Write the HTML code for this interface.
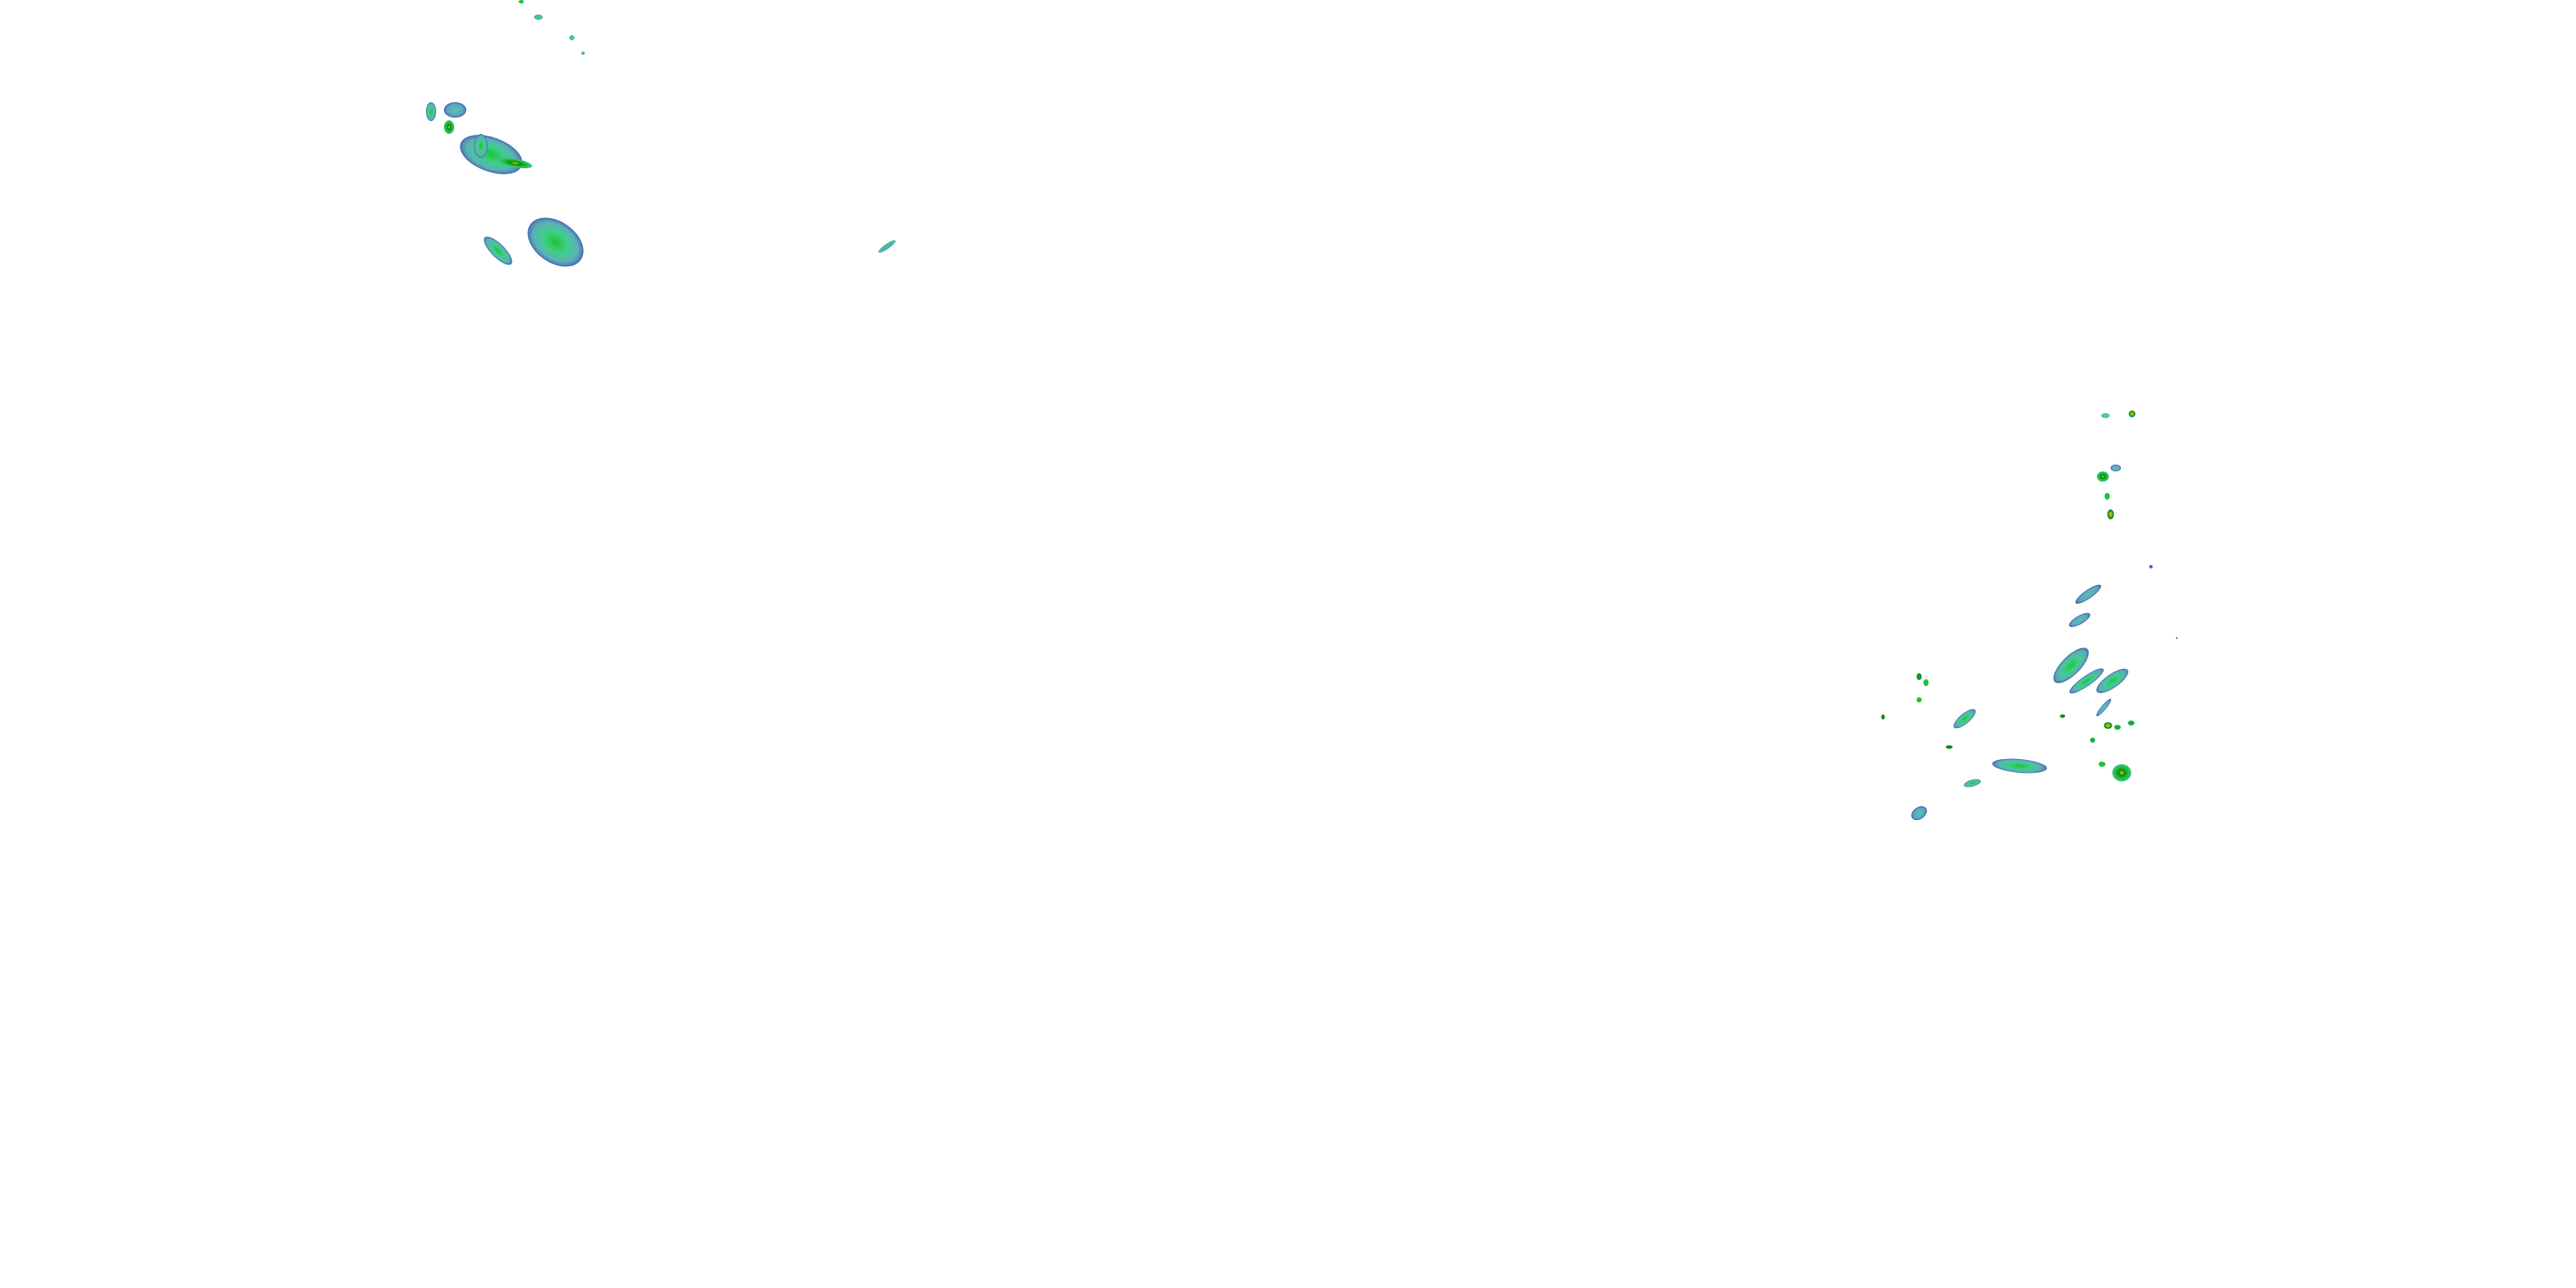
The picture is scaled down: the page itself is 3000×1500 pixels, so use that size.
<!DOCTYPE html>
<html><head><style>html,body{margin:0;padding:0;background:#fff}svg{display:block}</style></head>
<body>
<svg width="3000" height="1500" viewBox="0 0 3000 1500" xmlns="http://www.w3.org/2000/svg">
<defs>
<radialGradient id="g"><stop offset="0" stop-color="#1ec43a"/><stop offset="0.45" stop-color="#3fce8a"/><stop offset="0.8" stop-color="#5bb0b8"/><stop offset="1" stop-color="#4a6fb0"/></radialGradient>
<radialGradient id="b"><stop offset="0" stop-color="#5cc0b0"/><stop offset="0.7" stop-color="#5aa8c0"/><stop offset="1" stop-color="#4a68b0"/></radialGradient>
<radialGradient id="s"><stop offset="0" stop-color="#e8d000"/><stop offset="0.3" stop-color="#0a8a1a"/><stop offset="0.7" stop-color="#1ec43a"/><stop offset="1" stop-color="#40c090"/></radialGradient>
<radialGradient id="r"><stop offset="0" stop-color="#e04020"/><stop offset="0.3" stop-color="#e8d000"/><stop offset="0.6" stop-color="#0a8a1a"/><stop offset="1" stop-color="#30c060"/></radialGradient>
</defs>
<!-- left cluster -->
<ellipse cx="502" cy="130" rx="6" ry="11" fill="url(#g)"/>
<ellipse cx="530" cy="128" rx="13" ry="9" fill="url(#b)"/>
<ellipse cx="523" cy="148" rx="6" ry="8" fill="url(#s)"/>
<ellipse cx="572" cy="180" rx="38" ry="20" transform="rotate(20 572 180)" fill="url(#g)"/>
<ellipse cx="560" cy="170" rx="8" ry="14" fill="url(#g)"/>
<ellipse cx="600" cy="190" rx="20" ry="5" transform="rotate(10 600 190)" fill="url(#s)"/>
<ellipse cx="580" cy="292" rx="22" ry="8" transform="rotate(45 580 292)" fill="url(#g)"/>
<ellipse cx="647" cy="282" rx="36" ry="24" transform="rotate(35 647 282)" fill="url(#g)"/>
<ellipse cx="607" cy="2" rx="3" ry="2" fill="#1ec43a"/>
<ellipse cx="627" cy="20" rx="5" ry="3" fill="url(#g)"/>
<ellipse cx="666" cy="44" rx="3" ry="3" fill="#3fce8a"/>
<ellipse cx="679" cy="62" rx="2" ry="2" fill="#5bb0b8"/>
<ellipse cx="1033" cy="287" rx="12" ry="3" transform="rotate(-35 1033 287)" fill="#4fb5a8"/>
<!-- right cluster -->
<ellipse cx="2452" cy="484" rx="5" ry="3" fill="#5cc0b0"/>
<ellipse cx="2483" cy="482" rx="4" ry="4" fill="url(#r)"/>
<ellipse cx="2449" cy="555" rx="7" ry="6" fill="url(#s)"/>
<ellipse cx="2464" cy="545" rx="6" ry="4" fill="url(#b)"/>
<ellipse cx="2454" cy="578" rx="3" ry="4" fill="#1ec43a"/>
<ellipse cx="2458" cy="599" rx="4" ry="6" fill="url(#r)"/>
<ellipse cx="2432" cy="692" rx="18" ry="5" transform="rotate(-35 2432 692)" fill="url(#b)"/>
<ellipse cx="2422" cy="722" rx="14" ry="5" transform="rotate(-30 2422 722)" fill="url(#b)"/>
<ellipse cx="2412" cy="775" rx="27" ry="11" transform="rotate(-45 2412 775)" fill="url(#g)"/>
<ellipse cx="2430" cy="793" rx="24" ry="6" transform="rotate(-35 2430 793)" fill="url(#g)"/>
<ellipse cx="2460" cy="793" rx="22" ry="8" transform="rotate(-35 2460 793)" fill="url(#g)"/>
<ellipse cx="2450" cy="824" rx="13" ry="3" transform="rotate(-50 2450 824)" fill="url(#b)"/>
<ellipse cx="2288" cy="837" rx="16" ry="6" transform="rotate(-40 2288 837)" fill="url(#g)"/>
<ellipse cx="2352" cy="892" rx="32" ry="8" transform="rotate(5 2352 892)" fill="url(#g)"/>
<ellipse cx="2297" cy="912" rx="10" ry="4" transform="rotate(-15 2297 912)" fill="url(#g)"/>
<ellipse cx="2471" cy="900" rx="11" ry="10" fill="url(#s)"/>
<ellipse cx="2235" cy="947" rx="10" ry="7" transform="rotate(-35 2235 947)" fill="url(#b)"/>
<ellipse cx="2455" cy="845" rx="5" ry="4" fill="url(#r)"/>
<ellipse cx="2466" cy="847" rx="4" ry="3" fill="url(#s)"/>
<ellipse cx="2482" cy="842" rx="4" ry="3" fill="url(#s)"/>
<ellipse cx="2402" cy="834" rx="3" ry="2" fill="#0a8a1a"/>
<ellipse cx="2437" cy="862" rx="3" ry="3" fill="url(#s)"/>
<ellipse cx="2235" cy="788" rx="3" ry="4" fill="#1a9a2a"/>
<ellipse cx="2243" cy="795" rx="3" ry="4" fill="#1ec43a"/>
<ellipse cx="2193" cy="835" rx="2" ry="3" fill="#0a8a1a"/>
<ellipse cx="2235" cy="815" rx="3" ry="3" fill="#1ec43a"/>
<ellipse cx="2448" cy="890" rx="4" ry="3" fill="#1ec43a"/>
<ellipse cx="2270" cy="870" rx="4" ry="2" fill="#0a8a1a"/>
<ellipse cx="2505" cy="660" rx="2" ry="2" fill="#4a68b0"/>
<ellipse cx="2535" cy="743" rx="1" ry="1" fill="#4a68b0"/>
</svg>
</body></html>
